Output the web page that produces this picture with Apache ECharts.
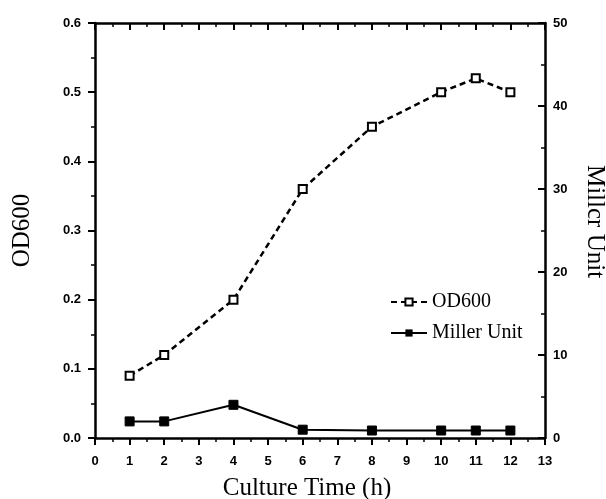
<!DOCTYPE html>
<html>
<head>
<meta charset="utf-8">
<script src="https://cdn.jsdelivr.net/npm/echarts@6/dist/echarts.min.js"></script>
<style>
  html, body { margin: 0; padding: 0; background: #fff; }
  #chartcontainer { width: 606px; height: 499px; }
</style>
</head>
<body>
<div id="chartcontainer"></div>
<script>
  // culture time (h)
  const hours = [1, 2, 4, 6, 8, 10, 11, 12]
  const od600 = [0.09, 0.12, 0.2, 0.36, 0.45, 0.5, 0.52, 0.5]
  const millerUnit = [2.0, 2.0, 4.0, 1.0, 0.9, 0.9, 0.9, 0.9]

  const serif = 'Liberation Serif'
  const sans = 'Liberation Sans'

  const chart = echarts.init(document.getElementById('chartcontainer'))

  const tickLabel = { color: '#000', fontFamily: sans, fontSize: 13, fontWeight: 'bold' }
  const axisLine = { show: true, onZero: false, lineStyle: { color: '#000', width: 2.5 } }
  const majorTick = { show: true, length: 7, lineStyle: { color: '#000', width: 2 } }
  const minorTick = { show: true, splitNumber: 2, length: 4, lineStyle: { color: '#000', width: 1.5 } }

  chart.setOption({
    animation: false,
    backgroundColor: '#fff',
    grid: { left: 95, right: 61, top: 23, bottom: 61, containLabel: false, outerBoundsMode: 'none' },
    legend: {
      orient: 'vertical',
      left: 385,
      top: 287,
      itemWidth: 36,
      itemHeight: 9,
      itemGap: 11,
      textStyle: { fontFamily: serif, fontSize: 20, color: '#000' },
      data: ['OD600', 'Miller Unit']
    },
    xAxis: [
      {
        type: 'value',
        min: 0,
        max: 13,
        interval: 1,
        position: 'bottom',
        name: 'Culture Time (h)',
        nameLocation: 'middle',
        nameGap: 38,
        nameTextStyle: { fontFamily: serif, fontSize: 25, color: '#000', padding: [0, 26, 0, 0] },
        axisLine: axisLine,
        axisTick: majorTick,
        minorTick: minorTick,
        axisLabel: Object.assign({ margin: 17 }, tickLabel),
        splitLine: { show: false }
      },
      {
        type: 'value',
        min: 0,
        max: 13,
        interval: 1,
        position: 'top',
        axisLine: axisLine,
        axisTick: Object.assign({}, majorTick, { inside: true }),
        minorTick: minorTick,
        axisLabel: { show: false },
        splitLine: { show: false }
      }
    ],
    yAxis: [
      {
        type: 'value',
        min: 0,
        max: 0.6,
        interval: 0.1,
        position: 'left',
        name: 'OD600',
        nameLocation: 'middle',
        nameGap: 60,
        nameTextStyle: { fontFamily: serif, fontSize: 25, color: '#000' },
        axisLine: axisLine,
        axisTick: majorTick,
        minorTick: minorTick,
        axisLabel: Object.assign({ margin: 14, formatter: v => v.toFixed(1) }, tickLabel),
        splitLine: { show: false }
      },
      {
        type: 'value',
        min: 0,
        max: 50,
        interval: 10,
        position: 'right',
        name: 'Millcr Unit',
        nameLocation: 'middle',
        nameGap: 37,
        nameRotate: -90,
        nameTextStyle: { fontFamily: serif, fontSize: 25, color: '#000', padding: [0, 18, 0, 0] },
        axisLine: axisLine,
        axisTick: Object.assign({}, majorTick, { inside: true }),
        minorTick: minorTick,
        axisLabel: Object.assign({ margin: 8 }, tickLabel),
        splitLine: { show: false }
      }
    ],
    series: [
      {
        name: 'OD600',
        type: 'line',
        xAxisIndex: 0,
        yAxisIndex: 0,
        data: hours.map((h, i) => [h, od600[i]]),
        symbol: 'rect',
        symbolSize: 8,
        itemStyle: { color: '#fff', borderColor: '#000', borderWidth: 2 },
        lineStyle: { color: '#000', width: 2.5, type: [6, 4] }
      },
      {
        name: 'Miller Unit',
        type: 'line',
        xAxisIndex: 0,
        yAxisIndex: 1,
        data: hours.map((h, i) => [h, millerUnit[i]]),
        symbol: 'rect',
        symbolSize: 9,
        itemStyle: { color: '#000', borderColor: '#000' },
        lineStyle: { color: '#000', width: 2 }
      }
    ]
  })
</script>
</body>
</html>
